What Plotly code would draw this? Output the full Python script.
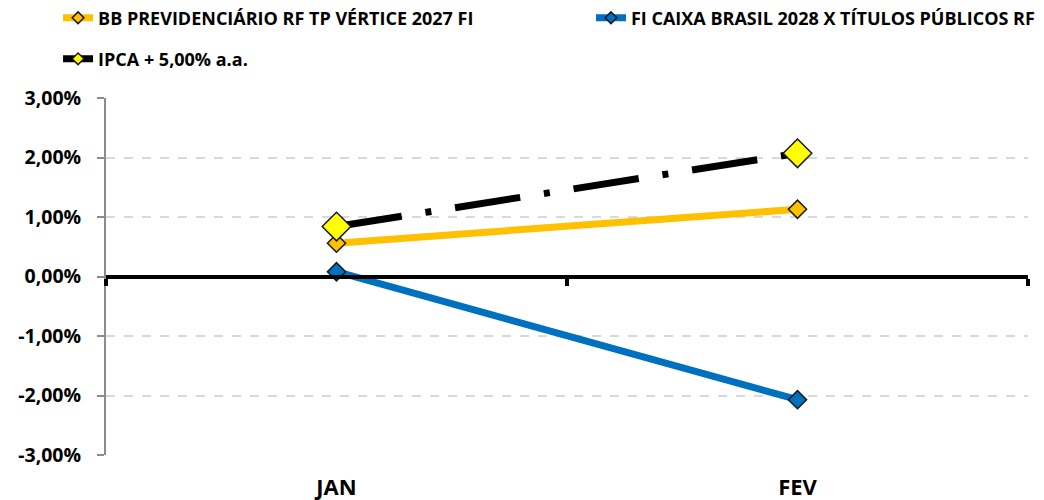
import plotly.graph_objects as go

months = ["JAN", "FEV"]
bb_prev = [0.56, 1.13]
caixa_2028 = [0.08, -2.07]
ipca_meta = [0.84, 2.07]

y_ticks = [-3, -2, -1, 0, 1, 2, 3]
y_labels = ["-3,00%", "-2,00%", "-1,00%", "0,00%", "1,00%", "2,00%", "3,00%"]

series = [
    # name, values, line colour, marker fill, marker size, dash, legend
    ("BB PREVIDENCIÁRIO RF TP VÉRTICE 2027 FI", bb_prev, "#FFC000", "#FFC000", 14, "solid", "legend"),
    ("FI CAIXA BRASIL 2028 X TÍTULOS PÚBLICOS RF", caixa_2028, "#0070C0", "#0070C0", 14, "solid", "legend2"),
    ("IPCA + 5,00% a.a.", ipca_meta, "black", "#FFFF00", 22, "66px,24px,6px,24px", "legend3"),
]

FONT = "Open Sans"
x_pos = list(range(len(months)))

fig = go.Figure()

for name, vals, lcol, mcol, msize, dash, leg in series:
    fig.add_trace(go.Scatter(
        x=x_pos, y=vals, mode="lines+markers", name=name, showlegend=False,
        line=dict(color=lcol, width=7, dash=dash),
        marker=dict(symbol="diamond", size=msize, color=mcol, line=dict(color="#1a1a1a", width=1.5))))
    # legend entry with the smaller Excel-style key
    fig.add_trace(go.Scatter(
        x=[None], y=[None], mode="lines+markers", name=name, legend=leg,
        line=dict(color=lcol, width=7),
        marker=dict(symbol="diamond", size=9, color=mcol, line=dict(color="#1a1a1a", width=1.5))))

# invisible trace to carry the category boundary ticks on the zero line
fig.add_trace(go.Scatter(
    x=x_pos, y=[0] * len(x_pos), xaxis="x2", mode="lines", line=dict(width=0),
    hoverinfo="skip", showlegend=False))

legend_font = dict(family=FONT, size=18, color="black", weight="bold")
tick_font = dict(family=FONT, size=19.5, color="black", weight="bold")

fig.update_layout(
    width=1044, height=500,
    margin=dict(l=106, r=16, t=98, b=45, autoexpand=False),
    plot_bgcolor="white", paper_bgcolor="white",
    font=dict(family=FONT, size=17, color="black"),
    showlegend=True,
    xaxis=dict(
        range=[-0.5, 1.5], tickvals=x_pos, ticktext=months, showgrid=False,
        zeroline=False, showline=False, ticks="", ticklabelstandoff=17, automargin=False,
        tickfont=dict(family=FONT, size=22, color="black", weight="bold")),
    xaxis2=dict(
        overlaying="x", anchor="free", position=0.5, side="bottom",
        range=[-0.5, 1.5], tickvals=[-0.5, 0.5, 1.5], showticklabels=False,
        ticks="outside", ticklen=7, tickwidth=4, tickcolor="black",
        showline=True, linecolor="black", linewidth=4, showgrid=False, zeroline=False),
    yaxis=dict(
        range=[-3, 3], tickvals=y_ticks, ticktext=y_labels, automargin=False,
        showgrid=True, gridcolor="#d9d9d9", griddash="dash", gridwidth=1.5,
        zeroline=False, showline=True, linecolor="#8c8c8c", linewidth=2,
        ticks="outside", ticklen=7, tickcolor="#8c8c8c", tickwidth=2,
        ticklabelstandoff=12, tickfont=tick_font),
    legend=dict(
        orientation="h", x=-0.052, xanchor="left", y=1.224, yanchor="middle",
        font=legend_font, bgcolor="rgba(0,0,0,0)"),
    legend2=dict(
        orientation="h", x=0.526, xanchor="left", y=1.224, yanchor="middle",
        font=legend_font, bgcolor="rgba(0,0,0,0)"),
    legend3=dict(
        orientation="h", x=-0.052, xanchor="left", y=1.109, yanchor="middle",
        font=legend_font, bgcolor="rgba(0,0,0,0)"),
)

fig.write_html("out.html", config={"displayModeBar": False},
               post_script="document.body.style.margin = '0';")
